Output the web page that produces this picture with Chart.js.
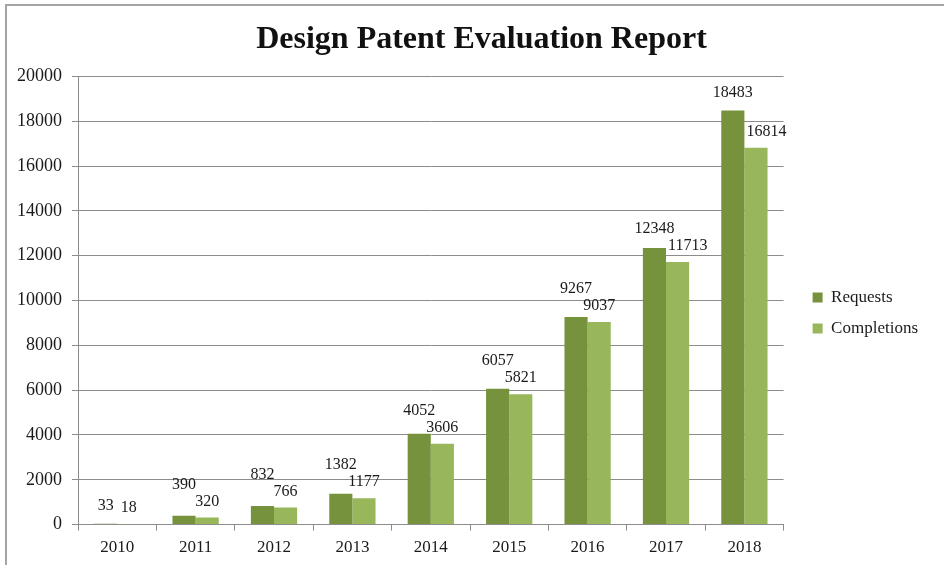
<!DOCTYPE html>
<html>
<head>
<meta charset="utf-8">
<title>Design Patent Evaluation Report</title>
<script src="https://cdn.jsdelivr.net/npm/chart.js@4.4.0/dist/chart.umd.min.js"></script>
<style>
    html, body { margin: 0; padding: 0; background: #fff; overflow: hidden; }
    #wrap { position: relative; width: 944px; height: 565px; }
    #frame {
        position: absolute; left: 5px; top: 4px; right: 0; bottom: 0;
        border-top: 2px solid #a4a4a4; border-left: 2px solid #a4a4a4;
        pointer-events: none;
    }
</style>
</head>
<body>
<div id="wrap">
    <canvas id="chart" width="944" height="565"></canvas>
    <div id="frame"></div>
</div>
<script>
// Dati
const years = ['2010', '2011', '2012', '2013', '2014', '2015', '2016', '2017', '2018'];
const requests = [33, 390, 832, 1382, 4052, 6057, 9267, 12348, 18483];
const completions = [18, 320, 766, 1177, 3606, 5821, 9037, 11713, 16814];
const yMax = 20000;
const yStep = 2000;

const FONT = "'Liberation Serif', 'Times New Roman', serif";
const TEXT = '#1a1a1a';
const GRID = '#8c8c8c';

// Etichette valore sopra le barre (evita sovrapposizioni come in Excel)
const valueLabels = {
    id: 'valueLabels',
    afterDatasetsDraw(chart) {
        const ctx = chart.ctx;
        const reqBars = chart.getDatasetMeta(0).data;
        const comBars = chart.getDatasetMeta(1).data;
        const reqData = chart.data.datasets[0].data;
        const comData = chart.data.datasets[1].data;
        ctx.save();
        ctx.font = '16px ' + FONT;
        ctx.fillStyle = TEXT;
        ctx.textAlign = 'center';
        ctx.textBaseline = 'middle';
        reqBars.forEach((rb, j) => {
            const cb = comBars[j];
            const rText = String(reqData[j]);
            const cText = String(comData[j]);
            const rw = ctx.measureText(rText).width;
            const cw = ctx.measureText(cText).width;

            let cx = cb.x;
            const cy = cb.y - 16;
            // se l'etichetta tocca la barra vicina più alta, spostala a destra
            if (cy + 4 > rb.y && cx - cw / 2 < rb.x + rb.width / 2) {
                cx = rb.x + rb.width / 2 + cw / 2 + 2;
            }

            let ry = rb.y - 18;
            if ((rw + cw) / 2 + 2 > cx - rb.x) {
                ry = Math.min(ry, cy - 17);
            }

            ctx.fillText(rText, rb.x, ry);
            ctx.fillText(cText, cx, cy);
        });
        ctx.restore();
    }
};

// Piccoli spostamenti di titolo e legenda dopo il layout
const nudge = {
    id: 'nudge',
    afterLayout(chart) {
        const t = chart.titleBlock;
        t.left += 18; t.right += 18;
        const lg = chart.legend;
        lg.left += 15; lg.right += 15;
        lg.top += 27; lg.bottom += 27;
    }
};

new Chart(document.getElementById('chart'), {
    type: 'bar',
    data: {
        labels: years,
        datasets: [
            {
                label: 'Requests',
                data: requests,
                backgroundColor: '#76923c',
                categoryPercentage: 0.59,
                barPercentage: 1
            },
            {
                label: 'Completions',
                data: completions,
                backgroundColor: '#97b75a',
                categoryPercentage: 0.59,
                barPercentage: 1
            }
        ]
    },
    options: {
        responsive: false,
        devicePixelRatio: 1,
        animation: false,
        layout: {
            padding: { left: 14, right: 31, top: 7, bottom: 0 }
        },
        plugins: {
            title: {
                display: true,
                text: 'Design Patent Evaluation Report',
                color: '#111',
                font: { family: FONT, size: 32, weight: 'bold' },
                padding: { top: 14, bottom: 17 }
            },
            legend: {
                position: 'right',
                labels: {
                    boxWidth: 10,
                    boxHeight: 10,
                    padding: 14,
                    color: TEXT,
                    font: { family: FONT, size: 17 }
                }
            },
            tooltip: { enabled: false }
        },
        scales: {
            x: {
                grid: {
                    drawOnChartArea: false,
                    drawTicks: true,
                    tickLength: 6,
                    color: GRID
                },
                border: { color: GRID },
                ticks: {
                    color: TEXT,
                    padding: 7,
                    font: { family: FONT, size: 17 }
                }
            },
            y: {
                min: 0,
                max: yMax,
                afterFit(scale) { scale.width = 64; },
                grid: {
                    color: GRID,
                    tickLength: 6
                },
                border: { color: GRID },
                ticks: {
                    stepSize: yStep,
                    color: TEXT,
                    padding: 10,
                    font: { family: FONT, size: 18 },
                    callback: v => String(v)
                }
            }
        }
    },
    plugins: [valueLabels, nudge]
});
</script>
</body>
</html>
